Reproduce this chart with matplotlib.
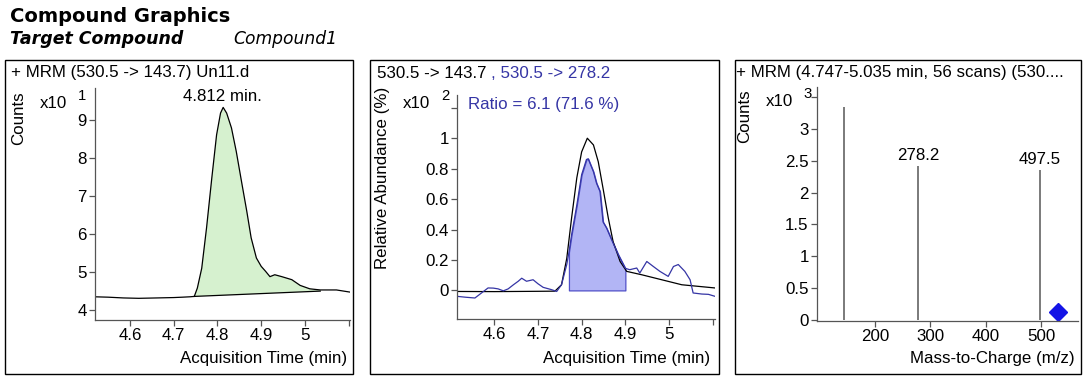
import matplotlib
matplotlib.use("Agg")
import matplotlib.pyplot as plt
from matplotlib.patches import Rectangle
import numpy as np

W, H = 1084, 379

# ---------------- data ----------------
# Panel 1: chromatogram 530.5 -> 143.7 (counts x10^1)
t1 = [4.52, 4.55, 4.585, 4.62, 4.661, 4.70, 4.72, 4.737, 4.747, 4.754, 4.764, 4.775,
      4.787, 4.798, 4.807, 4.813, 4.821, 4.832, 4.843, 4.855, 4.867, 4.877, 4.889,
      4.90, 4.91, 4.92, 4.931, 4.947, 4.97, 4.989, 5.011, 5.035, 5.042, 5.072, 5.105]
v1 = [4.35, 4.34, 4.32, 4.31, 4.32, 4.33, 4.34, 4.35, 4.36, 4.58, 5.10, 6.16,
      7.47, 8.61, 9.18, 9.33, 9.18, 8.79, 8.17, 7.38, 6.60, 5.90, 5.37,
      5.15, 5.02, 4.88, 4.93, 4.88, 4.80, 4.65, 4.56, 4.53, 4.53, 4.53, 4.47]
base_t = [4.747, 5.035]
base_v = [4.36, 4.50]
rt_label = "4.812 min."
rt_value = 4.812

# Panel 2: qualifier overlay (relative abundance x10^2)
t2k = [4.515, 4.60, 4.70, 4.739, 4.754, 4.766, 4.777, 4.789, 4.80, 4.813, 4.827,
       4.838, 4.849, 4.861, 4.872, 4.888, 4.903, 4.937, 4.983, 5.029, 5.105]
k2 = [-0.007, -0.008, -0.006, -0.005, 0.037, 0.21, 0.475, 0.74, 0.91, 1.0, 0.956,
      0.846, 0.67, 0.475, 0.32, 0.19, 0.125, 0.103, 0.07, 0.037, 0.016]
t2b = [4.515, 4.535, 4.556, 4.571, 4.586, 4.598, 4.609, 4.621, 4.632, 4.644, 4.655,
       4.663, 4.674, 4.689, 4.70, 4.712, 4.731, 4.743, 4.754, 4.766, 4.771, 4.777,
       4.789, 4.80, 4.811, 4.815, 4.827, 4.834, 4.842, 4.849, 4.857, 4.869, 4.884,
       4.90, 4.91, 4.926, 4.933, 4.949, 4.964, 4.979, 4.998, 5.01, 5.021, 5.036,
       5.048, 5.055, 5.075, 5.09, 5.105]
b2 = [-0.039, -0.045, -0.05, -0.017, 0.016, 0.015, 0.01, -0.003, 0.01, 0.037, 0.06,
      0.08, 0.06, 0.07, 0.044, 0.02, 0.005, -0.007, 0.037, 0.17, 0.25, 0.365,
      0.56, 0.76, 0.86, 0.865, 0.78, 0.705, 0.65, 0.45, 0.41, 0.33, 0.234,
      0.145, 0.136, 0.147, 0.114, 0.19, 0.157, 0.125, 0.092, 0.157, 0.17, 0.125,
      0.07, -0.017, -0.024, -0.026, -0.039]
fill2_range = [4.771, 4.90]
ratio_text = "Ratio = 6.1 (71.6 %)"

# Panel 3: spectrum (counts x10^3)
mz = [143.7, 278.2, 497.5]
inten = [3.35, 2.42, 2.36]
mz_labels = ["", "278.2", "497.5"]
prec_mz = [530.5]
prec_y = [0.12]

# ---------------- layout helpers ----------------
fig = plt.figure(figsize=(W / 100, H / 100), dpi=100)
FONT = "Liberation Sans"
FS = 12.2
TICKC = "#555555"
BLUE = "#3535a5"


def fx(px):
    return px / W


def fy(py):
    return 1 - py / H


def add_axes(l, r, t, b):
    ax = fig.add_axes([fx(l), fy(b), fx(r) - fx(l), fy(t) - fy(b)])
    for s in ("top", "right"):
        ax.spines[s].set_visible(False)
    for s in ("left", "bottom"):
        ax.spines[s].set_color(TICKC)
        ax.spines[s].set_linewidth(0.9)
    ax.tick_params(direction="out", length=4, width=0.9, color=TICKC,
                   labelsize=FS, pad=2)
    ax.patch.set_alpha(0)
    return ax


def ftext(px, py, s, **kw):
    kw.setdefault("fontfamily", FONT)
    kw.setdefault("fontsize", FS)
    return fig.text(fx(px), fy(py), s, **kw)


def set_ticks(ax, xt, xl, yt, yl):
    ax.set_xticks(xt)
    ax.set_xticklabels(xl, fontfamily=FONT, fontsize=FS)
    ax.set_yticks(yt)
    ax.set_yticklabels(yl, fontfamily=FONT, fontsize=FS)


# panel frames
for (l, t, r, b) in [(5, 60, 353, 374), (370, 60, 719, 374), (735, 60, 1081, 374)]:
    fig.patches.append(Rectangle((fx(l), fy(b)), fx(r) - fx(l), fy(t) - fy(b),
                                 transform=fig.transFigure, fill=False,
                                 ec="black", lw=1.0))

# headers
ftext(10, 22, "Compound Graphics", fontfamily="DejaVu Sans", fontweight="bold",
      fontsize=14, va="baseline")
ftext(10, 44, "Target Compound", fontfamily="DejaVu Sans", fontweight="bold",
      fontstyle="italic", fontsize=12.5, va="baseline")
ftext(233, 44, "Compound1", fontfamily="DejaVu Sans", fontstyle="italic",
      fontsize=12.3, va="baseline")

# ---------------- panel 1 ----------------
ax1 = add_axes(95, 350, 88, 320)
ax1.set_xlim(4.52, 5.103)
ax1.set_ylim(3.74, 9.84)
t1a, v1a = np.array(t1), np.array(v1)
m = (t1a >= base_t[0]) & (t1a <= base_t[1])
ax1.fill(np.r_[t1a[m], base_t[::-1]], np.r_[v1a[m], base_v[::-1]],
         color="#d6f1cf", lw=0)
ax1.plot(base_t, base_v, color="black", lw=0.9)
ax1.plot(t1, v1, color="black", lw=0.9)
ax1.annotate(rt_label, (rt_value, max(v1)), xytext=(0, 8), textcoords="offset points",
             ha="center", va="center", fontfamily=FONT, fontsize=FS)
set_ticks(ax1, [4.6, 4.7, 4.8, 4.9, 5.0, 5.1], ["4.6", "4.7", "4.8", "4.9", "5", ""],
          [4, 5, 6, 7, 8, 9], ["4", "5", "6", "7", "8", "9"])

ftext(11, 73, "+ MRM (530.5 -> 143.7) Un11.d", va="center")
ftext(19, 118, "Counts", rotation=90, ha="center", va="center")
ftext(40, 104, "x10", va="center")
ftext(78, 96, "1", va="center", fontsize=FS - 1.5)
ftext(347, 358, "Acquisition Time (min)", ha="right", va="center")

# ---------------- panel 2 ----------------
ax2 = add_axes(457, 715, 95, 319)
ax2.set_xlim(4.515, 5.105)
ax2.set_ylim(-0.188, 1.284)
t2a, b2a = np.array(t2b), np.array(b2)
m2 = (t2a >= fill2_range[0]) & (t2a <= fill2_range[1])
ax2.fill_between(t2a[m2], 0, b2a[m2], facecolor="#b2b5f5", edgecolor="#5050c8", lw=0.9)
ax2.plot(t2k, k2, color="black", lw=0.9)
ax2.plot(t2b, b2, color=BLUE, lw=0.9)
set_ticks(ax2, [4.6, 4.7, 4.8, 4.9, 5.0, 5.1], ["4.6", "4.7", "4.8", "4.9", "5", ""],
          [0, 0.2, 0.4, 0.6, 0.8, 1.0, 1.2], ["0", "0.2", "0.4", "0.6", "0.8", "1", ""])

t_a = ftext(377, 73, "530.5 -> 143.7 ", va="center", color="black")
fig.canvas.draw()
bb = t_a.get_window_extent()
fig.text(bb.x1 / W, fy(73), ", 530.5 -> 278.2", fontfamily=FONT, fontsize=FS,
         va="center", color=BLUE)
ftext(468, 104, ratio_text, va="center", color=BLUE)
ftext(382, 178, "Relative Abundance (%)", rotation=90, ha="center", va="center")
ftext(403, 104, "x10", va="center")
ftext(441, 96, "2", va="center", fontsize=FS - 1.5)
ftext(710, 358, "Acquisition Time (min)", ha="right", va="center")

# ---------------- panel 3 ----------------
ax3 = add_axes(817, 1078, 87, 321)
ax3.set_xlim(95.3, 566.8)
ax3.set_ylim(-0.016, 3.66)
ax3.vlines(mz, 0, inten, color="#707070", lw=1.3)
for x, y, s in zip(mz, inten, mz_labels):
    if s:
        ax3.annotate(s, (x, y), xytext=(0, 2), textcoords="offset points",
                     ha="center", va="bottom", fontfamily=FONT, fontsize=FS)
ax3.plot(prec_mz, prec_y, "D", color="#1414e6", ms=9.5, clip_on=False)
set_ticks(ax3, [200, 300, 400, 500], ["200", "300", "400", "500"],
          [0, 0.5, 1, 1.5, 2, 2.5, 3, 3.5], ["0", "0.5", "1", "1.5", "2", "2.5", "3", ""])

ftext(736, 73, "+ MRM (4.747-5.035 min, 56 scans) (530....", va="center")
ftext(745, 116, "Counts", rotation=90, ha="center", va="center")
ftext(766, 101, "x10", va="center")
ftext(803, 94, "3", va="center", fontsize=FS - 1.5)
ftext(1075, 358, "Mass-to-Charge (m/z)", ha="right", va="center")

fig.savefig("out.png", dpi=100)
